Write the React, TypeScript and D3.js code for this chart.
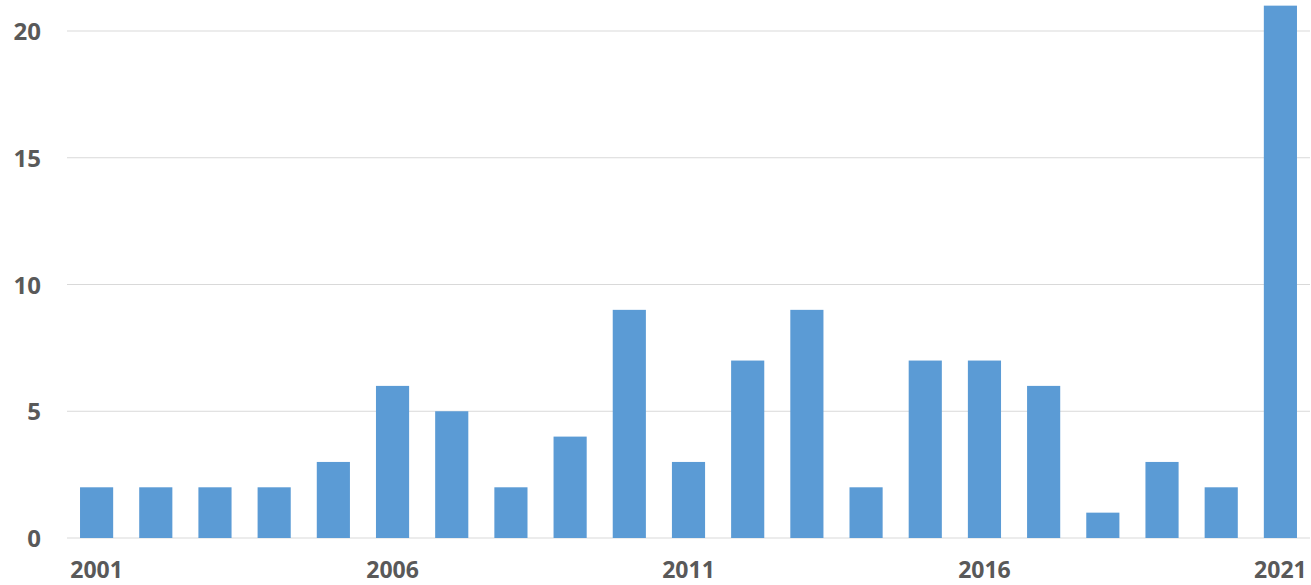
import React from "react";
import * as d3 from "d3";

const years = ["2001","2002","2003","2004","2005","2006","2007","2008","2009","2010","2011","2012","2013","2014","2015","2016","2017","2018","2019","2020","2021"];
const counts = [2,2,2,2,3,6,5,2,4,9,3,7,9,2,7,7,6,1,3,2,21];
const yTicks = [0,5,10,15,20];
const xLabels = ["2001","2006","2011","2016","2021"];

export default function App() {
  const W = 1311, H = 585;
  const left = 67, right = 1310, top = 31, bottom = 538;
  const x = d3.scaleBand().domain(years).range([left, right]).paddingInner(0.44).paddingOuter(0.22);
  const y = d3.scaleLinear().domain([0, 20]).range([bottom, top]);
  const font = "'Open Sans', 'Liberation Sans', sans-serif";
  return (
    <svg width={W} height={H} style={{ position: "absolute", left: 0, top: 0, background: "#fff" }}>
      {yTicks.map(t => (
        <g key={t}>
          <line x1={left} x2={right} y1={y(t)} y2={y(t)} stroke="#d9d9d9" strokeWidth={1} />
          <text x={41} y={y(t) + 9} textAnchor="end" fontFamily={font} fontWeight={700} fontSize={24} fill="#595959">{t}</text>
        </g>
      ))}
      {years.map((yr, i) => (
        <rect key={yr} x={x(yr)} y={y(counts[i])} width={x.bandwidth()} height={bottom - y(counts[i])} fill="#5b9bd5" />
      ))}
      {xLabels.map(l => (
        <text key={l} x={(x(l) as number) + x.bandwidth() / 2} y={578} textAnchor="middle" fontFamily={font} fontWeight={700} fontSize={23} fill="#595959">{l}</text>
      ))}
    </svg>
  );
}
